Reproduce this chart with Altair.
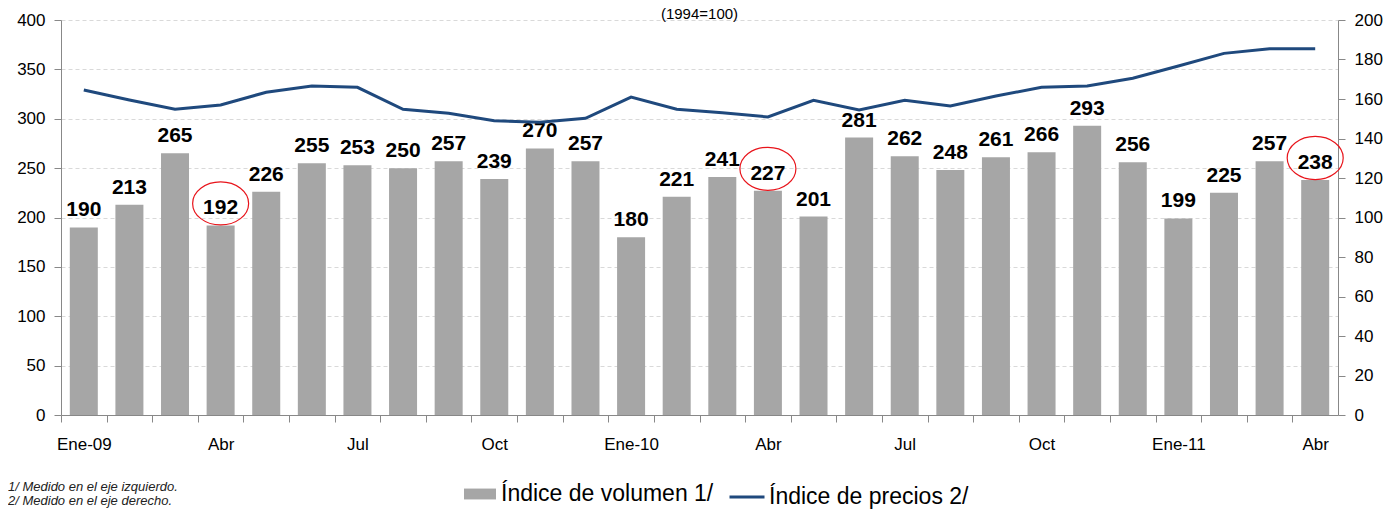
import altair as alt
import pandas as pd

meses = ["Ene-09", "Feb-09", "Mar-09", "Abr-09", "May-09", "Jun-09", "Jul-09",
         "Ago-09", "Sep-09", "Oct-09", "Nov-09", "Dic-09",
         "Ene-10", "Feb-10", "Mar-10", "Abr-10", "May-10", "Jun-10", "Jul-10",
         "Ago-10", "Sep-10", "Oct-10", "Nov-10", "Dic-10",
         "Ene-11", "Feb-11", "Mar-11", "Abr-11"]
volumen = [190, 213, 265, 192, 226, 255, 253, 250, 257, 239, 270, 257,
           180, 221, 241, 227, 201, 281, 262, 248, 261, 266, 293, 256,
           199, 225, 257, 238]
precios = [164.6, 159.5, 154.8, 157.0, 163.4, 166.6, 165.9, 154.8, 152.8, 149.0, 148.2, 150.2,
           161.0, 154.8, 153.0, 150.9, 159.3, 154.4, 159.3, 156.5, 161.5, 165.9, 166.6, 170.5,
           176.7, 183.1, 185.5, 185.5]
resaltados = ["Abr-09", "Abr-10", "Abr-11"]

serie_vol = "Índice de volumen 1/"
serie_pre = "Índice de precios 2/"
titulo = "(1994=100)"
notas = "1/ Medido en el eje izquierdo.\n2/ Medido en el eje derecho."

df = pd.DataFrame({
    "mes": meses,
    "volumen": volumen,
    "precios": precios,
    "resaltado": [1 if m in resaltados else 0 for m in meses],
    "serie_v": serie_vol,
    "serie_p": serie_pre,
})

FONT = "Liberation Sans"
AX = "#888888"
W, H = 1277, 395
step = W / len(meses)

label_expr = ("indexof(['Ene','Abr','Jul','Oct'], substring(datum.value,0,3)) < 0 ? '' : "
              "(substring(datum.value,0,3) == 'Ene' ? datum.value : substring(datum.value,0,3))")

x_enc = alt.X(
    "mes:N", sort=meses, title=None,
    scale=alt.Scale(paddingInner=0.386, paddingOuter=0.193),
    axis=alt.Axis(labelExpr=label_expr, labelAngle=0, labelFontSize=17, labelColor="black",
                  labelFont=FONT, domainColor=AX, tickColor=AX, tickSize=7,
                  tickOffset=-step / 2, labelOffset=step / 2, labelPadding=14, grid=False),
)

y_left = alt.Y(
    "volumen:Q", title=None,
    scale=alt.Scale(domain=[0, 400], nice=False, zero=True),
    axis=alt.Axis(values=list(range(0, 401, 50)), labelFontSize=17, labelColor="black",
                  labelFont=FONT, domainColor=AX, tickColor=AX, tickSize=7, labelPadding=9,
                  grid=True, gridColor="#d9d9d9", gridDash=[4, 3], gridWidth=1),
)

base = alt.Chart(df)

bars = base.mark_bar().encode(
    x=x_enc,
    y=y_left,
    fill=alt.Fill("serie_v:N", scale=alt.Scale(range=["#a6a6a6"]),
                  legend=alt.Legend(title=None, orient="none", legendX=403, legendY=458,
                                    symbolType="M-1,-0.34H1V0.34H-1Z", symbolSize=1024,
                                    symbolStrokeWidth=0, labelFontSize=23, labelFont=FONT,
                                    labelColor="black", labelOffset=5, labelLimit=400)),
)

labels = base.mark_text(dy=-11, baseline="alphabetic", fontSize=21, fontWeight="bold",
                        font=FONT, color="black").encode(
    x=x_enc, y=y_left, text=alt.Text("volumen:Q"),
)

ellipse_path = "M-1,0A1,0.77,0,1,0,1,0A1,0.77,0,1,0,-1,0Z"
circles = base.mark_point(shape=ellipse_path, size=3136, filled=False, stroke="#e8141b",
                          strokeWidth=1.2, opacity=1, yOffset=-22).encode(
    x=x_enc, y=y_left,
).transform_filter(alt.datum.resaltado == 1)

left = alt.layer(bars, labels, circles)

line = base.mark_line(strokeWidth=3).encode(
    x=x_enc,
    y=alt.Y("precios:Q", title=None,
            scale=alt.Scale(domain=[0, 200], nice=False, zero=True),
            axis=alt.Axis(orient="right", values=list(range(0, 201, 20)), labelFontSize=17,
                          labelColor="black", labelFont=FONT, domainColor=AX, tickColor=AX,
                          tickSize=7, labelPadding=9, grid=False)),
    stroke=alt.Stroke("serie_p:N", scale=alt.Scale(range=["#1f497d"]),
                      legend=alt.Legend(title=None, orient="none", legendX=667, legendY=458,
                                        symbolType="stroke", symbolSize=1225,
                                        symbolStrokeWidth=3, labelFontSize=23, labelFont=FONT,
                                        labelColor="black", labelOffset=3, labelLimit=400)),
)

notes = alt.Chart(pd.DataFrame({"t": [notas]})).mark_text(
    align="left", baseline="alphabetic", fontSize=13, fontStyle="italic", font=FONT,
    color="#222222", lineBreak="\n", lineHeight=14,
).encode(text="t:N", x=alt.value(-53), y=alt.value(471))

title_mark = alt.Chart(pd.DataFrame({"t": [titulo]})).mark_text(
    align="center", baseline="alphabetic", fontSize=15, font=FONT, color="black",
).encode(text="t:N", x=alt.value(W / 2), y=alt.value(-1))

chart = alt.layer(left, line, notes, title_mark).resolve_scale(
    y="independent", fill="independent", stroke="independent"
).properties(
    width=W, height=H,
    autosize=alt.AutoSizeParams(type="none"),
    padding={"left": 53, "top": 12, "right": 45, "bottom": 94},
).configure_view(stroke=None)

chart.save("out.html", embed_options={"renderer": "svg", "actions": False})
